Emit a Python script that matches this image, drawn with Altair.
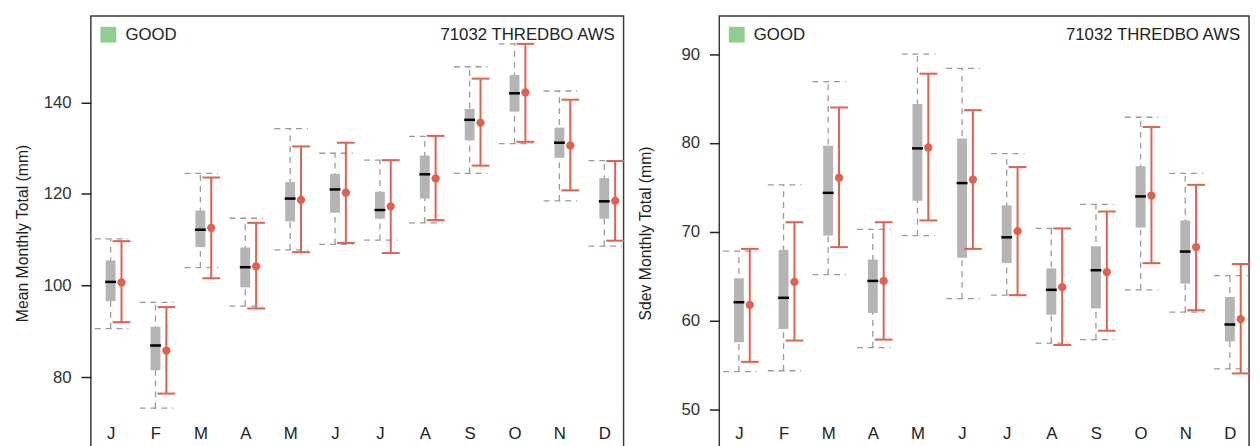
import json
import altair as alt
import pandas as pd

months = ["J", "F", "M", "A", "M", "J", "J", "A", "S", "O", "N", "D"]
month_idx = list(range(1, 13))

# Mean monthly total (mm)
mean_lo = [90.6, 73.2, 103.9, 95.5, 107.8, 109.0, 109.9, 113.7, 124.5, 131.0, 118.5, 108.6]
mean_hi = [110.2, 96.3, 124.5, 114.7, 134.3, 128.9, 127.4, 132.6, 147.8, 152.8, 142.5, 127.3]
mean_q1 = [96.6, 81.5, 108.4, 99.6, 114.0, 115.9, 114.6, 119.0, 131.7, 138.0, 127.9, 114.6]
mean_q3 = [105.5, 91.0, 116.4, 108.3, 122.6, 124.4, 120.5, 128.4, 138.6, 146.0, 134.5, 123.5]
mean_med = [100.8, 86.9, 112.2, 104.0, 119.0, 121.0, 116.5, 124.3, 136.2, 142.0, 131.2, 118.4]
mean_obs = [100.7, 85.8, 112.6, 104.2, 118.7, 120.3, 117.3, 123.4, 135.6, 142.2, 130.6, 118.5]
mean_obs_lo = [92.0, 76.4, 101.6, 95.0, 107.3, 109.3, 107.1, 114.3, 126.2, 131.4, 120.8, 109.8]
mean_obs_hi = [109.7, 95.3, 123.6, 113.7, 130.4, 131.2, 127.4, 132.7, 145.2, 152.8, 140.6, 127.2]

# Sdev monthly total (mm)
sd_lo = [54.3, 54.4, 65.2, 57.0, 69.6, 62.5, 62.9, 57.5, 57.9, 63.5, 61.0, 54.6]
sd_hi = [67.85, 75.3, 86.9, 70.3, 90.0, 88.4, 78.8, 70.4, 73.1, 82.9, 76.6, 65.1]
sd_q1 = [57.6, 59.1, 69.6, 60.9, 73.5, 67.1, 66.5, 60.7, 61.4, 70.5, 64.2, 57.7]
sd_q3 = [64.8, 68.0, 79.7, 66.9, 84.4, 80.5, 73.0, 65.9, 68.4, 77.4, 71.3, 62.7]
sd_med = [62.1, 62.6, 74.4, 64.5, 79.4, 75.5, 69.4, 63.5, 65.7, 74.0, 67.8, 59.6]
sd_obs = [61.8, 64.4, 76.1, 64.5, 79.5, 75.9, 70.1, 63.8, 65.5, 74.1, 68.3, 60.2]
sd_obs_lo = [55.4, 57.8, 68.3, 57.9, 71.3, 68.1, 62.9, 57.3, 58.9, 66.5, 61.2, 54.1]
sd_obs_hi = [68.1, 71.1, 84.0, 71.1, 87.8, 83.7, 77.3, 70.4, 72.3, 81.8, 75.3, 66.4]

quality_label = "GOOD"
station_label = "71032 THREDBO AWS"
mean_title = "Mean Monthly Total (mm)"
sd_title = "Sdev Monthly Total (mm)"
mean_ticks = [80, 100, 120, 140]
sd_ticks = [50, 60, 70, 80, 90]

FONT = "Liberation Sans"
RED = "#E4604E"
GREY_DASH = "#9a9a9a"
BOX = "#b4b4b4"
GREEN = "#8fce8e"
TXT = "#222222"
XDOM = [0.56, 12.43]
H = 440


def panel(lo, hi, q1, q3, med, obs, olo, ohi, ytitle, ydom, yvals, width, tpad):
    df = pd.DataFrame(dict(m=month_idx, lo=lo, hi=hi, q1=q1, q3=q3, med=med,
                           obs=obs, olo=olo, ohi=ohi))
    xscale = alt.Scale(domain=XDOM, nice=False, zero=False)
    yscale = alt.Scale(domain=ydom, nice=False, zero=False)
    x_axis = alt.Axis(values=month_idx,
                      labelExpr="%s[datum.value - 1]" % json.dumps(months),
                      orient="bottom", offset=-17, ticks=False, domain=False,
                      grid=False, labelPadding=0, labelBaseline="middle",
                      labelFontSize=17, labelColor=TXT, labelFont=FONT, title=None)
    y_axis = alt.Axis(values=yvals, title=ytitle, titlePadding=tpad,
                      titleFontSize=16, titleFontWeight="normal", titleColor=TXT,
                      titleFont=FONT, labelFont=FONT, labelFontSize=17,
                      labelColor="#333333", labelPadding=10, tickSize=10,
                      tickWidth=1.5, tickColor=TXT, domain=False, grid=False)
    X = alt.X("m:Q", scale=xscale, axis=x_axis)

    def Y(f):
        return alt.Y(f + ":Q", scale=yscale, axis=y_axis)

    base = alt.Chart(df)
    whisk = base.mark_rule(color=GREY_DASH, strokeDash=[6, 5], strokeWidth=1.3).encode(
        x=X, y=Y("lo"), y2="hi")
    box = base.mark_rule(color=BOX, strokeWidth=10).encode(x=X, y=Y("q1"), y2="q3")
    medl = base.mark_rule(color="black", strokeWidth=2.5, xOffset=-5.5, x2Offset=5.5).encode(
        x=X, x2="m", y=Y("med"))
    cap_lo = base.mark_rule(color=GREY_DASH, strokeDash=[6, 5], strokeWidth=1.3,
                            xOffset=-16, x2Offset=18).encode(x=X, x2="m", y=Y("lo"))
    cap_hi = base.mark_rule(color=GREY_DASH, strokeDash=[6, 5], strokeWidth=1.3,
                            xOffset=-16, x2Offset=18).encode(x=X, x2="m", y=Y("hi"))
    red = base.mark_rule(color=RED, strokeWidth=2, xOffset=11).encode(
        x=X, y=Y("olo"), y2="ohi")
    rcap_lo = base.mark_rule(color=RED, strokeWidth=2, xOffset=2, x2Offset=20).encode(
        x=X, x2="m", y=Y("olo"))
    rcap_hi = base.mark_rule(color=RED, strokeWidth=2, xOffset=2, x2Offset=20).encode(
        x=X, x2="m", y=Y("ohi"))
    dot = base.mark_circle(color=RED, size=70, opacity=1, xOffset=11).encode(
        x=X, y=Y("obs"))

    ann = alt.Chart(pd.DataFrame({"q": [quality_label], "s": [station_label]}))
    sq = ann.mark_square(color=GREEN, size=256, opacity=1).encode(
        x=alt.value(17.7), y=alt.value(19))
    good = ann.mark_text(align="left", baseline="middle", fontSize=17, font=FONT,
                         color=TXT).encode(x=alt.value(35), y=alt.value(19), text="q:N")
    stn = ann.mark_text(align="right", baseline="middle", fontSize=17, font=FONT,
                        color=TXT).encode(x=alt.value(width - 9), y=alt.value(19), text="s:N")

    return alt.layer(whisk, box, medl, cap_lo, cap_hi, red, rcap_lo, rcap_hi, dot,
                     sq, good, stn).properties(width=width, height=H)


left = panel(mean_lo, mean_hi, mean_q1, mean_q3, mean_med, mean_obs, mean_obs_lo,
             mean_obs_hi, mean_title, [64.07, 158.9], mean_ticks, 540, 12.6)
right = panel(sd_lo, sd_hi, sd_q1, sd_q3, sd_med, sd_obs, sd_obs_lo, sd_obs_hi,
              sd_title, [45.49, 94.29], sd_ticks, 537, 27.4)

chart = alt.hconcat(left, right, spacing=10).properties(
    padding={"left": 6, "top": 4, "right": 0, "bottom": 0}
).configure(background="white").configure_view(stroke="#3a3a3a", strokeWidth=1.5)

chart.save("out.html", embed_options={"renderer": "svg", "actions": False})
